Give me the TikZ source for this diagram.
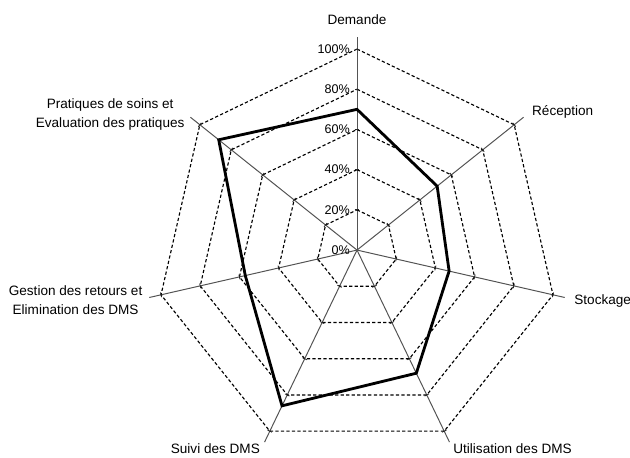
\documentclass[tikz,border=0pt]{standalone}
\usepackage{fontspec}
\setmainfont{Liberation Sans}

\begin{document}
\begin{tikzpicture}[
    axe/.style    = {gray!65!black, line width=0.7pt},
    grille/.style = {black, line width=0.8pt, dash pattern=on 2.3pt off 1.6pt},
    repere/.style = {black!85, line width=0.6pt},
    courbe/.style = {black, line width=2pt, line join=miter},
    etiq/.style   = {font=\fontsize{9.6}{13.5}\selectfont, align=center, inner sep=0pt},
    pct/.style    = {font=\fontsize{8.9}{10}\selectfont, anchor=east, inner sep=0pt}]
  \useasboundingbox (-8.88,-5.15) rectangle (6.79,6.22);
  % axes (7 branches, 360/7 degres)
  \foreach \a in {90,38.57,-12.86,-64.29,-115.71,-167.14,141.43}
    \draw[axe] (0,0) -- (\a:5.3);
  % heptagones en pointilles, 20% a 100%
  \foreach \r in {1,...,5}
    \draw[grille] (90:\r) -- (38.57:\r) -- (-12.86:\r) -- (-64.29:\r)
                  -- (-115.71:\r) -- (-167.14:\r) -- (141.43:\r) -- cycle;
  % petites graduations
  \foreach \a in {90,38.57,-12.86,-64.29,-115.71,-167.14,141.43}
    \foreach \r in {1,...,5}
      \draw[repere] ([shift={(\a:\r)}]\a+90:0.06) -- ([shift={(\a:\r)}]\a-90:0.06);
  % pourcentages
  \node[pct] (p0)   at (-0.17,0) {0\%};
  \node[pct] (p20)  at (-0.17,1) {20\%};
  \node[pct] (p40)  at (-0.17,2) {40\%};
  \node[pct] (p60)  at (-0.17,3) {60\%};
  \node[pct] (p80)  at (-0.17,4) {80\%};
  \node[pct] (p100) at (-0.17,5) {100\%};
  % resultats
  \draw[courbe] (90:3.5) -- (38.57:2.55) -- (-12.86:2.35) -- (-64.29:3.4)
                -- (-115.71:4.3) -- (-167.14:2.85) -- (141.43:4.4) -- cycle;
  % libelles des axes
  \node[etiq] (demande)   at (0,5.73) {Demande};
  \node[etiq, anchor=west] (reception) at (4.35,3.43) {Réception};
  \node[etiq, anchor=west] (stockage)  at (5.40,-1.27) {Stockage};
  \node[etiq, anchor=west] (utilis)    at (2.39,-4.95) {Utilisation des DMS};
  \node[etiq, anchor=east] (suivi)     at (-2.41,-4.95) {Suivi des DMS};
  \node[etiq] (gestion)   at (-7.0,-1.24) {Gestion des retours et\\Elimination des DMS};
  \node[etiq] (pratiques) at (-6.14,3.38) {Pratiques de soins et\\Evaluation des pratiques};
\end{tikzpicture}
\end{document}
